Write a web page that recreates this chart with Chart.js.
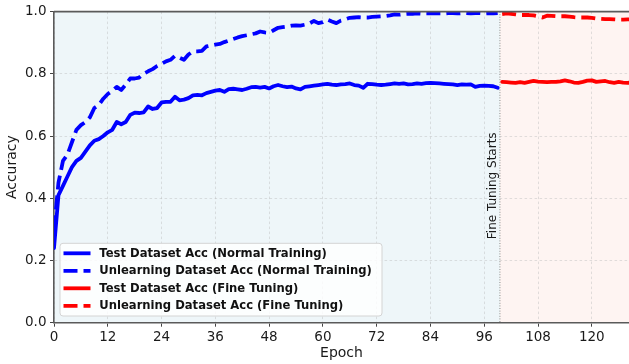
<!DOCTYPE html>
<html>
<head>
<meta charset="utf-8">
<script src="https://cdn.jsdelivr.net/npm/chart.js@4.4.1/dist/chart.umd.min.js"></script>
<style>
  html, body { margin: 0; padding: 0; background: #ffffff; }
  #chart-acc { display: block; }
</style>
</head>
<body>
<canvas id="chart-acc" width="629" height="364"></canvas>
<script>
// normal training, epochs 0..99
var testAccNormal = [
  0.24, 0.41, 0.44, 0.47, 0.50, 0.52, 0.53, 0.55, 0.57, 0.585,
  0.59, 0.60, 0.612, 0.62, 0.645, 0.638, 0.645, 0.668, 0.675, 0.674,
  0.676, 0.695, 0.687, 0.69, 0.708, 0.71, 0.71, 0.726, 0.715, 0.717,
  0.722, 0.731, 0.732, 0.731, 0.738, 0.742, 0.746, 0.748, 0.742, 0.751,
  0.752, 0.75, 0.748, 0.752, 0.757, 0.758, 0.756, 0.758, 0.753, 0.760,
  0.764, 0.760, 0.757, 0.759, 0.753, 0.750, 0.758, 0.760, 0.762, 0.764,
  0.766, 0.768, 0.765, 0.764, 0.766, 0.767, 0.769, 0.764, 0.762, 0.755,
  0.768, 0.767, 0.765, 0.764, 0.765, 0.767, 0.769, 0.768, 0.769, 0.766,
  0.767, 0.769, 0.768, 0.770, 0.771, 0.770, 0.769, 0.768, 0.767, 0.766,
  0.764, 0.766, 0.765, 0.766, 0.758, 0.761, 0.762, 0.761, 0.760, 0.755
];
var unlearnAccNormal = [
  0.30, 0.45, 0.52, 0.54, 0.58, 0.62, 0.635, 0.645, 0.66, 0.69,
  0.70, 0.72, 0.735, 0.745, 0.758, 0.748, 0.765, 0.785, 0.785, 0.788,
  0.80, 0.808, 0.815, 0.825, 0.832, 0.84, 0.845, 0.858, 0.852, 0.845,
  0.862, 0.872, 0.872, 0.874, 0.888, 0.891, 0.894, 0.896, 0.902, 0.907,
  0.912, 0.917, 0.921, 0.924, 0.927, 0.930, 0.936, 0.933, 0.932, 0.940,
  0.948, 0.950, 0.952, 0.955, 0.956, 0.955, 0.958, 0.962, 0.970, 0.963,
  0.966, 0.974, 0.968, 0.963, 0.971, 0.975, 0.980, 0.981, 0.982, 0.981,
  0.981, 0.983, 0.984, 0.985, 0.986, 0.988, 0.991, 0.990, 0.992, 0.993,
  0.993, 0.994, 0.993, 0.994, 0.994, 0.995, 0.994, 0.994, 0.995, 0.995,
  0.994, 0.995, 0.995, 0.994, 0.995, 0.995, 0.994, 0.995, 0.994, 0.995
];
// fine tuning, epochs 100..129
var testAccFine = [
  0.774, 0.773, 0.772, 0.771, 0.773, 0.771, 0.774, 0.777, 0.775, 0.774,
  0.773, 0.774, 0.774, 0.776, 0.779, 0.776, 0.772, 0.771, 0.774, 0.778,
  0.779, 0.774, 0.776, 0.777, 0.773, 0.771, 0.774, 0.772, 0.771, 0.772
];
var unlearnAccFine = [
  0.992, 0.994, 0.993, 0.991, 0.989, 0.989, 0.989, 0.988, 0.985, 0.981,
  0.987, 0.986, 0.985, 0.985, 0.985, 0.984, 0.982, 0.981, 0.981, 0.981,
  0.980, 0.978, 0.977, 0.976, 0.976, 0.975, 0.974, 0.974, 0.975, 0.976
];
var normalStartEpoch = 0;
var fineStartEpoch = 100;
var splitEpoch = 99.5;
var xTicks = [0, 12, 24, 36, 48, 60, 72, 84, 96, 108, 120];
var yTicks = [0, 0.2, 0.4, 0.6, 0.8, 1.0];
var seriesLabels = [
  'Test Dataset Acc (Normal Training)',
  'Unlearning Dataset Acc (Normal Training)',
  'Test Dataset Acc (Fine Tuning)',
  'Unlearning Dataset Acc (Fine Tuning)'
];

var fontFam = "'DejaVu Sans', sans-serif";
var dashPat = [14, 6];

function toPoints(values, firstEpoch) {
  return values.map(function (v, i) { return { x: firstEpoch + i, y: v }; });
}

function lineSet(label, values, first, color, dashed) {
  return {
    label: label,
    data: toPoints(values, first),
    borderColor: color,
    backgroundColor: color,
    borderWidth: 3.8,
    borderDash: dashed ? dashPat : [],
    borderJoinStyle: 'round',
    borderCapStyle: dashed ? 'butt' : 'round',
    pointRadius: 0,
    tension: 0,
    fill: false
  };
}

// shaded phases, marker line and label
var phasePlugin = {
  id: 'phases',
  beforeDraw: function (chart) {
    var ctx = chart.ctx, a = chart.chartArea, xs = chart.scales.x;
    var xSplit = xs.getPixelForValue(splitEpoch);
    ctx.save();
    ctx.fillStyle = '#eef6f9';
    ctx.fillRect(a.left, a.top, xSplit - a.left, a.bottom - a.top);
    ctx.fillStyle = '#fef4f2';
    ctx.fillRect(xSplit, a.top, a.right - xSplit, a.bottom - a.top);
    ctx.restore();
  },
  afterDatasetsDraw: function (chart) {
    var ctx = chart.ctx, a = chart.chartArea, xs = chart.scales.x, ys = chart.scales.y;
    var xSplit = xs.getPixelForValue(splitEpoch);
    ctx.save();
    ctx.strokeStyle = '#8a8a8a';
    ctx.lineWidth = 1;
    ctx.setLineDash([1, 1.6]);
    ctx.beginPath();
    ctx.moveTo(xSplit, a.top);
    ctx.lineTo(xSplit, a.bottom);
    ctx.stroke();
    ctx.setLineDash([]);

    ctx.translate(xSplit - 3.7, ys.getPixelForValue(0.44));
    ctx.rotate(-Math.PI / 2);
    ctx.fillStyle = '#1a1a1a';
    ctx.font = '12px ' + fontFam;
    ctx.textAlign = 'center';
    ctx.textBaseline = 'alphabetic';
    ctx.fillText('Fine Tuning Starts', 0, 0);
    ctx.restore();

    // top spine
    ctx.save();
    ctx.strokeStyle = '#5a5a5a';
    ctx.lineWidth = 1.6;
    ctx.beginPath();
    ctx.moveTo(a.left, a.top);
    ctx.lineTo(a.right, a.top);
    ctx.stroke();
    ctx.restore();
  }
};

var legendPlugin = {
  id: 'boxLegend',
  afterDatasetsDraw: function (chart) {
    var ctx = chart.ctx, a = chart.chartArea;
    var x0 = a.left + 6, y0 = a.bottom - 79.4, w = 322, h = 72.7;
    ctx.save();
    ctx.fillStyle = 'rgba(255,255,255,0.82)';
    ctx.strokeStyle = '#d4d4d4';
    ctx.lineWidth = 1;
    ctx.beginPath();
    ctx.roundRect(x0, y0, w, h, 3);
    ctx.fill();
    ctx.stroke();

    ctx.font = 'bold 11.6px ' + fontFam;
    ctx.textAlign = 'left';
    ctx.textBaseline = 'middle';
    chart.data.datasets.forEach(function (ds, i) {
      var cy = y0 + 10 + i * 17.5;
      ctx.strokeStyle = ds.borderColor;
      ctx.lineWidth = 3.8;
      ctx.lineCap = 'butt';
      ctx.setLineDash(ds.borderDash);
      ctx.beginPath();
      ctx.moveTo(x0 + 3.5, cy);
      ctx.lineTo(x0 + 30.5, cy);
      ctx.stroke();
      ctx.setLineDash([]);
      ctx.fillStyle = '#111111';
      ctx.fillText(ds.label, x0 + 39.3, cy + 0.5);
    });
    ctx.restore();
  }
};

var gridOpts = {
  color: 'rgba(185,185,185,0.55)',
  lineWidth: 0.8,
  tickLength: 4,
  tickColor: '#444444',
  tickWidth: 1,
  tickBorderDash: []
};

var config = {
  type: 'line',
  data: {
    datasets: [
      lineSet(seriesLabels[0], testAccNormal, normalStartEpoch, '#0000ff', false),
      lineSet(seriesLabels[1], unlearnAccNormal, normalStartEpoch, '#0000ff', true),
      lineSet(seriesLabels[2], testAccFine, fineStartEpoch, '#ff0000', false),
      lineSet(seriesLabels[3], unlearnAccFine, fineStartEpoch, '#ff0000', true)
    ]
  },
  options: {
    responsive: false,
    animation: false,
    devicePixelRatio: 1,
    layout: { padding: { top: 9, right: 0, left: 0, bottom: 0 } },
    plugins: {
      legend: { display: false },
      tooltip: { enabled: false }
    },
    scales: {
      x: {
        type: 'linear',
        min: 0,
        max: 128.3,
        afterBuildTicks: function (s) {
          s.ticks = xTicks.map(function (v) { return { value: v }; });
        },
        afterFit: function (s) { s.height = 41.3; },
        ticks: {
          font: { family: fontFam, size: 13.5 },
          color: '#1a1a1a',
          padding: 3,
          maxRotation: 0,
          autoSkip: false
        },
        grid: gridOpts,
        border: { color: '#5a5a5a', width: 1.6, dash: [2.5, 2.5] },
        title: {
          display: true,
          text: 'Epoch',
          color: '#1a1a1a',
          font: { family: fontFam, size: 14 },
          padding: { top: 0, bottom: 2 }
        }
      },
      y: {
        min: 0,
        max: 1,
        afterBuildTicks: function (s) {
          s.ticks = yTicks.map(function (v) { return { value: v }; });
        },
        afterFit: function (s) { s.width = 54; },
        ticks: {
          font: { family: fontFam, size: 13.5 },
          color: '#1a1a1a',
          padding: 3.5,
          callback: function (v) { return Number(v).toFixed(1); }
        },
        grid: gridOpts,
        border: { color: '#5a5a5a', width: 1.6, dash: [2.5, 2.5] },
        title: {
          display: true,
          text: 'Accuracy',
          color: '#1a1a1a',
          font: { family: fontFam, size: 14 },
          padding: { top: 4, bottom: 0 }
        }
      }
    }
  },
  plugins: [phasePlugin, legendPlugin]
};

var chartAcc = new Chart(document.getElementById('chart-acc').getContext('2d'), config);
</script>
</body>
</html>
